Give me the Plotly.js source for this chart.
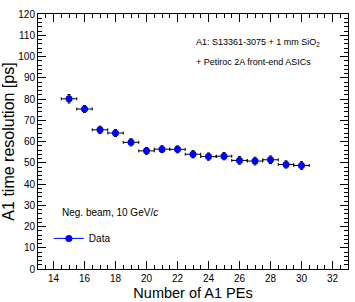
<!DOCTYPE html>
<html><head><meta charset="utf-8">
<script src="https://cdn.plot.ly/plotly-3.0.1.min.js"></script>
<style>html,body{margin:0;padding:0;background:#fff}#c{width:355px;height:302px}</style>
</head><body><div id="c"></div>
<script>
const nPE = [15,16,17,18,19,20,21,22,23,24,25,26,27,28,29,30];
const resolution = [80.1,75.3,65.5,64.0,59.6,55.6,56.4,56.3,54.0,52.9,53.1,51.1,50.8,51.4,49.2,48.7];
const resErr = [2.0,1.6,1.7,1.6,1.7,1.6,1.6,1.6,1.7,1.7,1.7,1.8,1.8,1.8,1.7,1.8];
const peErr = [0.5,0.5,0.5,0.5,0.5,0.5,0.5,0.5,0.5,0.5,0.5,0.5,0.5,0.5,0.5,0.5];
const seriesName = "Data";

const F = '"Liberation Sans", Arial, Helvetica, sans-serif';

const traces = [
  {
    x: nPE, y: resolution, type: 'scatter', mode: 'markers',
    marker: {color: '#0000ff', size: 7, symbol: 'circle'},
    error_y: {type: 'data', array: resErr, visible: true, color: '#000', thickness: 1, width: 1.5},
    error_x: {type: 'data', array: peErr, visible: true, color: '#000', thickness: 1, width: 1.5},
    showlegend: false, name: seriesName
  },
  {
    x: [null], y: [null], type: 'scatter', mode: 'lines+markers',
    marker: {color: '#0000ff', size: 7}, line: {color: '#0000ff', width: 1},
    name: seriesName, showlegend: true
  }
];

const layout = {
  width: 355, height: 302,
  margin: {l: 38, r: 7, t: 14, b: 33},
  paper_bgcolor: '#fff', plot_bgcolor: '#fff',
  font: {family: F, color: '#000', size: 10},
  showlegend: true,
  legend: {x: 0.035, y: 0.12, xanchor: 'left', yanchor: 'middle', bgcolor: 'rgba(0,0,0,0)',
           font: {family: F, size: 10}, itemwidth: 30},
  xaxis: {
    range: [13, 33], dtick: 2, tick0: 0, ticks: 'inside', ticklen: 8, tickcolor: '#000',
    mirror: 'allticks', showline: true, linecolor: '#000', linewidth: 1, showgrid: false, zeroline: false,
    tickfont: {family: F, size: 10},
    minor: {dtick: 0.5, ticks: 'inside', ticklen: 4, tickcolor: '#000', showgrid: false},
    title: {text: 'Number of A1 PEs', font: {family: F, size: 14.5}, standoff: 4}
  },
  yaxis: {
    range: [0, 120], dtick: 10, tick0: 0, ticks: 'inside', ticklen: 8, tickcolor: '#000',
    mirror: 'allticks', showline: true, linecolor: '#000', linewidth: 1, showgrid: false, zeroline: false,
    tickfont: {family: F, size: 10},
    minor: {dtick: 2, ticks: 'inside', ticklen: 4, tickcolor: '#000', showgrid: false},
    title: {text: 'A1 time resolution [ps]', font: {family: F, size: 16}, standoff: 6}
  },
  annotations: [
    {xref: 'paper', yref: 'paper', x: 0.503, y: 0.888, xanchor: 'left', yanchor: 'middle', showarrow: false,
     text: 'A1: S13361-3075 + 1 mm SiO<sub>2</sub>', font: {family: F, size: 9}},
    {xref: 'paper', yref: 'paper', x: 0.503, y: 0.81, xanchor: 'left', yanchor: 'middle', showarrow: false,
     text: '+ Petiroc 2A front-end ASICs', font: {family: F, size: 9}},
    {xref: 'paper', yref: 'paper', x: 0.07, y: 0.22, xanchor: 'left', yanchor: 'middle', showarrow: false,
     text: 'Neg. beam, 10 GeV/<i>c</i>', font: {family: F, size: 10}}
  ]
};
Plotly.newPlot('c', traces, layout, {displayModeBar: false, staticPlot: true});
</script></body></html>
